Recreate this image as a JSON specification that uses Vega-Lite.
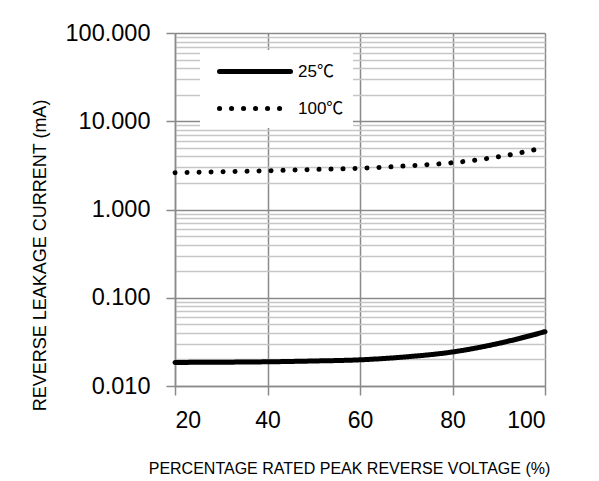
{
  "$schema": "https://vega.github.io/schema/vega-lite/v6.json",
  "width": 370,
  "height": 353,
  "autosize": {"type": "none"},
  "padding": {"left": 175, "top": 33, "right": 54, "bottom": 95},
  "background": "white",
  "data": {
    "values": [
      {"v": 20, "series": "25℃", "i": 0.0185},
      {"v": 30, "series": "25℃", "i": 0.0186},
      {"v": 40, "series": "25℃", "i": 0.0188},
      {"v": 50, "series": "25℃", "i": 0.0192},
      {"v": 60, "series": "25℃", "i": 0.0198},
      {"v": 70, "series": "25℃", "i": 0.0214},
      {"v": 80, "series": "25℃", "i": 0.0243},
      {"v": 90, "series": "25℃", "i": 0.0304},
      {"v": 100, "series": "25℃", "i": 0.0412},
      {"v": 20, "series": "100℃", "i": 2.61},
      {"v": 30, "series": "100℃", "i": 2.68},
      {"v": 40, "series": "100℃", "i": 2.75},
      {"v": 50, "series": "100℃", "i": 2.84},
      {"v": 60, "series": "100℃", "i": 2.93},
      {"v": 70, "series": "100℃", "i": 3.12},
      {"v": 80, "series": "100℃", "i": 3.39},
      {"v": 90, "series": "100℃", "i": 3.96},
      {"v": 100, "series": "100℃", "i": 5.05}
    ]
  },
  "mark": {"type": "line", "color": "black", "strokeWidth": 5, "strokeCap": "round", "interpolate": "monotone", "clip": false},
  "encoding": {
    "x": {
      "field": "v", "type": "quantitative",
      "scale": {"domain": [20, 100], "nice": false, "zero": false},
      "axis": {
        "values": [20, 40, 60, 80, 100],
        "title": "PERCENTAGE RATED PEAK REVERSE VOLTAGE (%)",
        "titleFont": "Liberation Sans", "titleFontSize": 16, "titleFontWeight": "normal", "titleColor": "black",
        "titleX": 174, "titleY": 87, "titleBaseline": "alphabetic", "titleAnchor": null,
        "labelFont": "Liberation Sans", "labelFontSize": 23, "labelColor": "black", "labelPadding": 14,
        "tickSize": 9, "tickColor": "#8a8a8a", "tickWidth": 1.5,
        "domainColor": "#8a8a8a", "domainWidth": 1.5,
        "grid": true, "gridColor": "#8a8a8a", "gridWidth": 1.5
      }
    },
    "y": {
      "field": "i", "type": "quantitative",
      "scale": {"type": "log", "domain": [0.01, 100], "nice": false},
      "axis": {
        "values": [0.01,0.02,0.03,0.04,0.05,0.06,0.07,0.08,0.09,0.1,0.2,0.3,0.4,0.5,0.6,0.7,0.8,0.9,1,2,3,4,5,6,7,8,9,10,20,30,40,50,60,70,80,90,100],
        "labelExpr": "abs(log(datum.value)/LN10 - round(log(datum.value)/LN10)) < 0.001 ? format(datum.value, '.3f') : ''",
        "title": "REVERSE LEAKAGE CURRENT (mA)",
        "titleFont": "Liberation Sans", "titleFontSize": 18, "titleFontWeight": "normal", "titleColor": "black",
        "titleAngle": -90, "titleX": -135, "titleY": 222, "titleBaseline": "middle", "titleAlign": "center", "titleAnchor": null,
        "labelFont": "Liberation Sans", "labelFontSize": 23.5, "labelColor": "black", "labelPadding": 16,
        "tickSize": 9, "tickColor": "#8a8a8a", "tickWidth": 1.5,
        "tickOpacity": {"condition": {"test": "abs(log(datum.value)/LN10 - round(log(datum.value)/LN10)) < 0.001", "value": 1}, "value": 0},
        "domainColor": "#8a8a8a", "domainWidth": 1.5,
        "grid": true, "gridWidth": 1.5,
        "gridColor": {"condition": {"test": "abs(log(datum.value)/LN10 - round(log(datum.value)/LN10)) < 0.001", "value": "#8a8a8a"}, "value": "#c6c6c6"}
      }
    },
    "strokeDash": {
      "field": "series", "type": "nominal",
      "scale": {"domain": ["25℃", "100℃"], "range": [[1, 0], [0.1, 11.9]]},
      "legend": {
        "title": null, "orient": "none", "legendX": 25, "legendY": 17,
        "fillColor": "white", "strokeColor": null, "padding": 9,
        "symbolType": "M-1,0H6.1", "symbolSize": 400, "symbolOffset": 8,
        "symbolStrokeWidth": 5, "symbolStrokeColor": "black",
        "labelOffset": 56, "labelFont": "Liberation Sans, Noto Sans CJK SC", "labelFontSize": 17, "labelColor": "black",
        "rowPadding": 14,
        "encode": {"symbols": {"update": {"strokeCap": {"value": "round"}}}}
      }
    }
  },
  "config": {"view": {"stroke": null}}
}
